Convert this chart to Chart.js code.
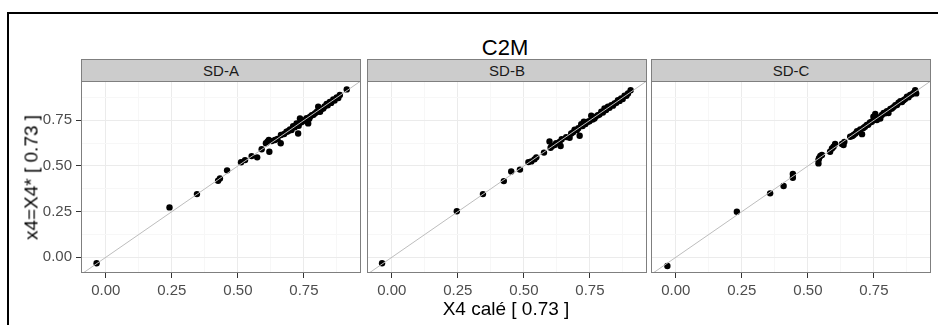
<!DOCTYPE html>
<html>
<head>
<meta charset="utf-8">
<script src="https://cdn.jsdelivr.net/npm/chart.js@4.4.1/dist/chart.umd.min.js"></script>
<style>
    body { margin: 0; background: #fff; font-family: "Liberation Sans", Arial, sans-serif; }
    #page { position: relative; width: 938px; height: 325px; overflow: hidden; }
    #frame { position: absolute; left: 7px; top: 12px; width: 1000px; height: 400px;
             border-left: 2px solid #000; border-top: 2px solid #000; }
    .strip { position: absolute; top: 59px; height: 22px; box-sizing: border-box;
             background: #cccccc; border: 1px solid #7f7f7f; border-bottom: none;
             text-align: center; font-size: 15px; line-height: 21px; color: #1a1a1a; }
    canvas { position: absolute; }
    #title { position: absolute; left: 405px; width: 200px; top: 37px; text-align: center;
             font-size: 22px; line-height: 22px; color: #000; }
    #xlabel { position: absolute; left: 356px; width: 300px; top: 299px; text-align: center;
              font-size: 19px; line-height: 19px; color: #000; }
    #ylabel { position: absolute; left: -69px; width: 200px; top: 168px; text-align: center;
              font-size: 19px; line-height: 19px; color: #000; transform: rotate(-90deg); }
</style>
</head>
<body>
<div id="page">
    <div id="frame"></div>
    <div id="title">C2M</div>
    <div class="strip" style="left:81px; width:280px;">SD-A</div>
    <div class="strip" style="left:367px; width:280px;">SD-B</div>
    <div class="strip" style="left:651px; width:280px;">SD-C</div>
    <canvas id="chart-a" width="322" height="221" style="left:40px; top:80px;"></canvas>
    <canvas id="chart-b" width="282" height="221" style="left:366px; top:80px;"></canvas>
    <canvas id="chart-c" width="282" height="221" style="left:650px; top:80px;"></canvas>
    <div id="xlabel">X4 calé [ 0.73 ]</div>
    <div id="ylabel">x4=X4* [ 0.73 ]</div>
</div>
<script>
// Data ---------------------------------------------------------------------
const panels = ['SD-A', 'SD-B', 'SD-C'];
const tickValues = [0, 0.25, 0.5, 0.75];
const tickLabels = ['0.00', '0.25', '0.50', '0.75'];
const minorValues = [0.125, 0.375, 0.625, 0.875];
const diagonal = [[-0.2, -0.2], [1.1, 1.1]];

const sdA = [
    [-0.035, -0.033], [0.241, 0.273], [0.345, 0.346], [0.425, 0.419], [0.432, 0.431],
    [0.459, 0.476], [0.512, 0.520], [0.527, 0.532], [0.552, 0.554], [0.573, 0.547],
    [0.590, 0.591], [0.606, 0.624], [0.612, 0.633], [0.617, 0.642], [0.619, 0.578],
    [0.628, 0.636], [0.640, 0.642], [0.650, 0.648], [0.662, 0.624], [0.663, 0.669],
    [0.675, 0.675], [0.684, 0.687], [0.690, 0.690], [0.697, 0.700], [0.703, 0.697],
    [0.709, 0.718], [0.715, 0.712], [0.722, 0.733], [0.728, 0.678], [0.730, 0.720],
    [0.735, 0.760], [0.735, 0.736], [0.742, 0.740], [0.748, 0.747], [0.754, 0.751],
    [0.760, 0.762], [0.766, 0.733], [0.770, 0.758], [0.773, 0.769], [0.780, 0.778],
    [0.786, 0.780], [0.792, 0.788], [0.798, 0.795], [0.804, 0.824], [0.806, 0.800],
    [0.811, 0.797], [0.816, 0.810], [0.823, 0.815], [0.828, 0.826], [0.836, 0.839],
    [0.840, 0.832], [0.848, 0.851], [0.853, 0.845], [0.861, 0.864], [0.866, 0.858],
    [0.874, 0.875], [0.880, 0.872], [0.886, 0.888], [0.912, 0.919]
];
const sdB = [
    [-0.037, -0.033], [0.246, 0.252], [0.345, 0.346], [0.424, 0.417], [0.452, 0.470],
    [0.485, 0.480], [0.517, 0.521], [0.528, 0.525], [0.540, 0.536], [0.547, 0.547],
    [0.576, 0.573], [0.597, 0.634], [0.601, 0.600], [0.606, 0.608], [0.616, 0.614],
    [0.622, 0.624], [0.635, 0.632], [0.639, 0.609], [0.643, 0.646], [0.660, 0.658],
    [0.673, 0.654], [0.679, 0.678], [0.686, 0.684], [0.692, 0.698], [0.700, 0.696],
    [0.711, 0.665], [0.706, 0.706], [0.717, 0.728], [0.722, 0.718], [0.727, 0.742],
    [0.733, 0.730], [0.742, 0.742], [0.748, 0.745], [0.755, 0.775], [0.760, 0.754],
    [0.767, 0.760], [0.772, 0.770], [0.780, 0.778], [0.786, 0.781], [0.793, 0.797],
    [0.799, 0.792], [0.805, 0.815], [0.811, 0.806], [0.818, 0.824], [0.824, 0.818],
    [0.831, 0.833], [0.837, 0.830], [0.843, 0.842], [0.850, 0.846], [0.856, 0.860],
    [0.862, 0.856], [0.868, 0.870], [0.874, 0.866], [0.881, 0.885], [0.888, 0.884],
    [0.894, 0.897], [0.904, 0.915]
];
const sdC = [
    [-0.032, -0.048], [0.231, 0.249], [0.357, 0.350], [0.408, 0.390], [0.443, 0.456],
    [0.443, 0.435], [0.540, 0.514], [0.540, 0.532], [0.542, 0.542], [0.547, 0.555],
    [0.553, 0.560], [0.584, 0.578], [0.591, 0.596], [0.597, 0.605], [0.603, 0.620],
    [0.629, 0.620], [0.635, 0.614], [0.638, 0.632], [0.660, 0.660], [0.668, 0.664],
    [0.673, 0.669], [0.680, 0.678], [0.686, 0.690], [0.692, 0.688], [0.698, 0.700],
    [0.705, 0.674], [0.710, 0.708], [0.716, 0.715], [0.723, 0.724], [0.728, 0.726],
    [0.735, 0.738], [0.742, 0.742], [0.748, 0.769], [0.752, 0.752], [0.755, 0.784],
    [0.761, 0.751], [0.767, 0.765], [0.774, 0.760], [0.780, 0.779], [0.787, 0.790],
    [0.793, 0.788], [0.799, 0.800], [0.805, 0.790], [0.812, 0.812], [0.818, 0.815],
    [0.824, 0.822], [0.831, 0.832], [0.837, 0.833], [0.843, 0.846], [0.850, 0.855],
    [0.856, 0.850], [0.862, 0.860], [0.868, 0.866], [0.875, 0.879], [0.881, 0.876],
    [0.887, 0.888], [0.893, 0.892], [0.900, 0.900], [0.906, 0.915], [0.910, 0.897]
];

const xRange = [-0.094, 0.966];
const yRange = [-0.086, 0.965];

// Helpers -------------------------------------------------------------------
const gridValues = tickValues.concat(minorValues).sort((a, b) => a - b);
const isMajor = (v) => tickValues.indexOf(v) >= 0;
const toPoints = (arr) => arr.map(p => ({ x: p[0], y: p[1] }));

// grey border round each panel
const panelBorder = {
    id: 'panelBorder',
    afterDraw(chart) {
        const a = chart.chartArea;
        const ctx = chart.ctx;
        ctx.save();
        ctx.strokeStyle = '#7f7f7f';
        ctx.lineWidth = 1;
        ctx.strokeRect(a.left + 0.5, a.top + 0.5, a.right - a.left - 1, a.bottom - a.top - 1);
        ctx.restore();
    }
};

function makeScale(range, showLabels, fitSize, horizontal) {
    return {
        type: 'linear',
        min: range[0],
        max: range[1],
        afterBuildTicks: (scale) => { scale.ticks = gridValues.map(v => ({ value: v })); },
        afterFit: (scale) => {
            if (horizontal) scale.height = fitSize; else scale.width = fitSize;
            // no extra room for labels at the ends
            scale.paddingTop = 0;
            scale.paddingBottom = 0;
            scale.paddingLeft = 0;
            scale.paddingRight = 0;
        },
        border: { display: false },
        grid: {
            color: (c) => (c.tick && isMajor(c.tick.value)) ? '#ebebeb' : '#f7f7f7',
            tickColor: (c) => (c.tick && isMajor(c.tick.value)) ? '#333333' : 'rgba(0,0,0,0)',
            drawTicks: showLabels,
            tickLength: 5
        },
        ticks: {
            display: showLabels,
            autoSkip: false,
            maxRotation: 0,
            padding: 4,
            color: '#4d4d4d',
            font: { size: 15, family: 'Liberation Sans' },
            callback: (v) => {
                const i = tickValues.indexOf(v);
                return i >= 0 ? tickLabels[i] : '';
            }
        }
    };
}

// Create the charts ------------------------------------------------------------
function renderPanel(id, points, showY) {
    const ctx = document.getElementById(id).getContext('2d');
    new Chart(ctx, {
        type: 'scatter',
        data: {
            datasets: [{
                data: toPoints(diagonal),
                showLine: true,
                borderColor: '#bdbdbd',
                borderWidth: 1,
                pointRadius: 0
            }, {
                data: toPoints(points),
                backgroundColor: '#000000',
                pointRadius: 3.2,
                pointBorderWidth: 0
            }]
        },
        options: {
            responsive: false,
            animation: false,
            devicePixelRatio: 1,
            events: [],
            layout: {
                autoPadding: false,
                padding: { top: 1, right: 1, left: showY ? 0 : 1, bottom: 0 }
            },
            scales: {
                x: makeScale(xRange, true, 28, true),
                y: makeScale(yRange, showY, showY ? 41 : 0, false)
            },
            plugins: {
                legend: { display: false },
                tooltip: { enabled: false },
                title: { display: false }
            }
        },
        plugins: [panelBorder]
    });
}

renderPanel('chart-a', sdA, true);
renderPanel('chart-b', sdB, false);
renderPanel('chart-c', sdC, false);
</script>
</body>
</html>
